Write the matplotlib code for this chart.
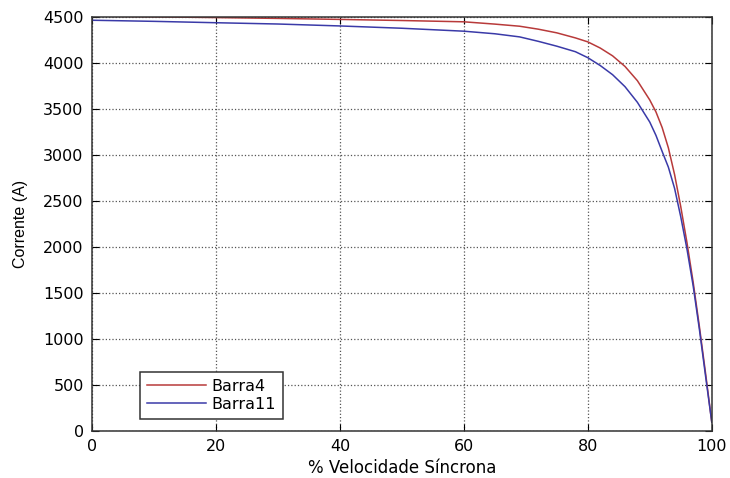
import numpy as np
import matplotlib
matplotlib.use('Agg')
import matplotlib.pyplot as plt

plt.rcParams['font.family'] = ['DejaVu Sans']

vel = [0, 10, 20, 30, 40, 50, 60, 65, 69, 72, 75, 78, 80, 82, 84, 86, 88, 90, 91, 92, 93, 94, 95, 96, 97, 98, 99, 100]
barra4 = [4512, 4504, 4496, 4487, 4476, 4464, 4450, 4425, 4402, 4370, 4330, 4275, 4232, 4165, 4080, 3965,
          3810, 3600, 3470, 3300, 3080, 2790, 2440, 2050, 1620, 1140, 630, 100]
barra11 = [4467, 4455, 4440, 4426, 4405, 4380, 4348, 4320, 4286, 4238, 4185, 4125, 4060, 3975, 3875, 3745,
           3575, 3360, 3215, 3040, 2870, 2640, 2330, 1980, 1580, 1110, 600, 100]

fig = plt.figure(figsize=(7.3, 4.78), dpi=100)
ax = fig.add_axes([0.126, 0.098, 0.849, 0.866])

ax.plot(vel, barra4, color='#b83a3a', lw=1.1, label='Barra4')
ax.plot(vel, barra11, color='#3a3aa8', lw=1.1, label='Barra11')

ax.set_xlim(0, 100)
ax.set_ylim(0, 4500)
ax.set_xticks(np.arange(0, 101, 20))
ax.set_yticks(np.arange(0, 4501, 500))
ax.grid(True, linestyle=':', color='#555555', lw=0.9)
ax.tick_params(direction='in', top=True, right=True, labelsize=11.5, length=5, pad=6)
for s in ax.spines.values():
    s.set_color('#333333')
    s.set_linewidth(1.1)

ax.set_xlabel('% Velocidade Síncrona', fontsize=12, labelpad=3)
ax.set_ylabel('Corrente (A)', fontsize=11.5, family='Liberation Sans', labelpad=11)

leg = ax.legend(loc='lower left', bbox_to_anchor=(0.077, 0.029), fontsize=11.5,
                fancybox=False, edgecolor='#333333', framealpha=1, handlelength=3.7,
                handletextpad=0.35, borderaxespad=0, labelspacing=0.2, borderpad=0.45)
leg.get_frame().set_linewidth(1.1)

fig.savefig('out.png', dpi=100)
